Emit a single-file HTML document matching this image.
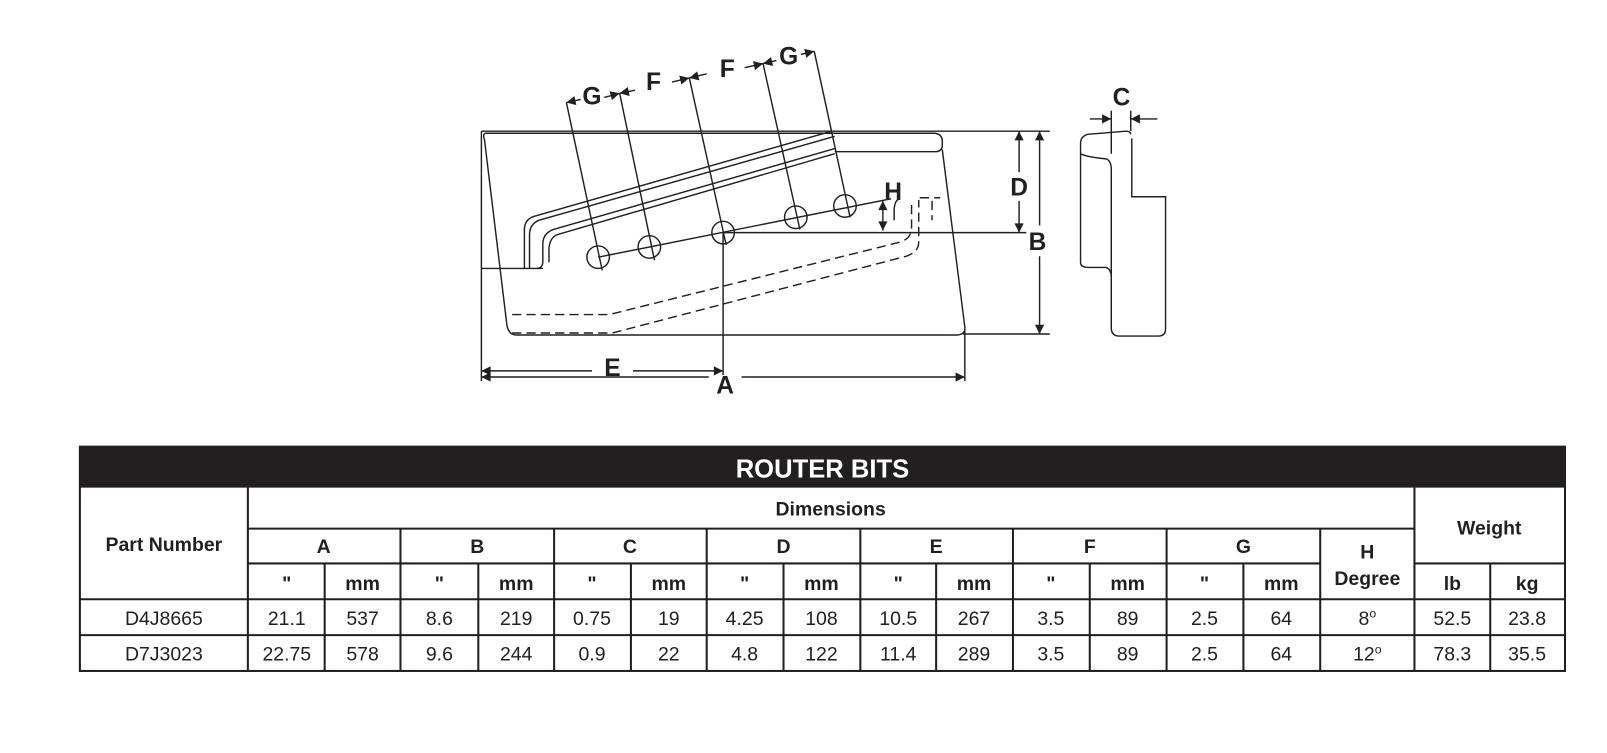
<!DOCTYPE html>
<html><head><meta charset="utf-8"><style>
html,body{margin:0;padding:0;background:#fff;}
svg{display:block;}
text{font-family:"Liberation Sans",Arial,sans-serif;fill:#231f20;}
.b{font-weight:bold;}
</style></head><body>
<svg width="1607" height="753" viewBox="0 0 1569 735" xmlns="http://www.w3.org/2000/svg">
<defs>
<marker id="ar" viewBox="0 0 10 10" refX="10" refY="5" markerWidth="14" markerHeight="9" orient="auto-start-reverse" markerUnits="userSpaceOnUse"><path d="M0,0 L10,5 L0,10 z" fill="#231f20"/></marker>
</defs>
<g fill="none" stroke="#231f20" stroke-width="1.4">
<line x1="470" y1="128" x2="1025" y2="128"/>
<line x1="470" y1="128" x2="470" y2="372"/>
<line x1="942" y1="322" x2="942" y2="372"/>
<line x1="940" y1="326" x2="1025" y2="326"/>
<line x1="706" y1="227" x2="1002" y2="227"/>
<line x1="706" y1="227" x2="706" y2="366"/>
<path d="M474,130 L913,130 Q920,131 920,138 L920,143 Q919,148 913,148 L815,148"/>
<path d="M474,130 Q471,131 473,136 L495,318 Q497,327 504,327 L935,327 Q943,326 942,319 L920,146"/>
<path d="M812,128 L522,211 Q512,214 512,224 L512,262"/>
<path d="M815,133 L526,215 Q517,219 517,229 L517,262"/>
<path d="M815,145 L540,224 Q530,228 530,238 L530,255 Q530,262 524,262"/>
<path d="M815,150 L544,229 Q537,232 536,242 L536,256"/>
<line x1="470" y1="262" x2="530" y2="262"/>
<circle cx="584" cy="251" r="11"/>
<circle cx="634" cy="241" r="11"/>
<circle cx="706" cy="227" r="11"/>
<circle cx="777" cy="212" r="11"/>
<circle cx="825" cy="201" r="11"/>
<line x1="584" y1="251" x2="870" y2="194"/>
<line x1="553" y1="100" x2="588" y2="264"/>
<line x1="605" y1="91" x2="639" y2="254"/>
<line x1="673" y1="76" x2="709" y2="239"/>
<line x1="745" y1="62" x2="781" y2="224"/>
<line x1="795" y1="50" x2="830" y2="212"/>
<g stroke-dasharray="9,5">
<path d="M500,307 L595,307 L880,236 Q890,232 890,222 L890,195"/>
<path d="M500,325 L598,325 L885,250 Q897,246 897,236 L897,195"/>
<path d="M898,193 L918,193"/>
<path d="M910,196 L910,215"/>
</g>
<path d="M878,194 Q873,196 873,206 L873,215"/>
</g>
<g stroke="#231f20" stroke-width="1.4" fill="none">
<line x1="553" y1="100" x2="567" y2="97" marker-start="url(#ar)"/>
<line x1="590" y1="95" x2="605" y2="91" marker-end="url(#ar)"/>
<line x1="605" y1="91" x2="620" y2="88" marker-start="url(#ar)"/>
<line x1="656" y1="80" x2="673" y2="76" marker-end="url(#ar)"/>
<line x1="673" y1="76" x2="690" y2="72" marker-start="url(#ar)"/>
<line x1="727" y1="66" x2="745" y2="62" marker-end="url(#ar)"/>
<line x1="745" y1="62" x2="758" y2="59" marker-start="url(#ar)"/>
<line x1="782" y1="53" x2="795" y2="50" marker-end="url(#ar)"/>
<line x1="470" y1="362" x2="578" y2="362" marker-start="url(#ar)"/>
<line x1="618" y1="362" x2="706" y2="362" marker-end="url(#ar)"/>
<line x1="470" y1="368" x2="692" y2="368" marker-start="url(#ar)"/>
<line x1="724" y1="368" x2="942" y2="368" marker-end="url(#ar)"/>
<line x1="995" y1="128" x2="995" y2="168" marker-start="url(#ar)"/>
<line x1="995" y1="196" x2="995" y2="227" marker-end="url(#ar)"/>
<line x1="1015" y1="128" x2="1015" y2="220" marker-start="url(#ar)"/>
<line x1="1015" y1="250" x2="1015" y2="326" marker-end="url(#ar)"/>
<line x1="862" y1="196" x2="862" y2="225" marker-start="url(#ar)" marker-end="url(#ar)"/>
<line x1="1064" y1="116" x2="1085" y2="116" marker-end="url(#ar)"/>
<line x1="1130" y1="116" x2="1104" y2="116" marker-end="url(#ar)"/>
<line x1="1085" y1="108" x2="1085" y2="150"/>
<line x1="1104" y1="108" x2="1104" y2="128"/>
<path d="M1104,131 Q1104,128 1099,128 L1062,131 Q1055,133 1055,140 L1055,256 Q1055,261 1062,261 L1080,261 Q1085,263 1085,270 L1085,320 Q1085,328 1093,328 L1131,328 Q1138,328 1138,321 L1138,192 L1105,192 L1105,135"/>
<path d="M1055,150 Q1060,153 1080,155 Q1085,157 1085,165 L1085,270"/>
</g>
<g class="b" font-size="24">
<text x="578" y="102" text-anchor="middle" class="b">G</text>
<text x="638" y="88" text-anchor="middle" class="b">F</text>
<text x="710" y="75" text-anchor="middle" class="b">F</text>
<text x="770" y="63" text-anchor="middle" class="b">G</text>
<text x="872" y="195" text-anchor="middle" class="b">H</text>
<text x="598" y="367" text-anchor="middle" class="b">E</text>
<text x="708" y="384" text-anchor="middle" class="b">A</text>
<text x="995" y="191" text-anchor="middle" class="b">D</text>
<text x="1013" y="244" text-anchor="middle" class="b">B</text>
<text x="1095" y="103" text-anchor="middle" class="b">C</text>
</g>
<rect x="78" y="436" width="1450" height="40" fill="#231f20"/>
<text x="803" y="466" text-anchor="middle" font-size="25" class="b" style="fill:#fff">ROUTER BITS</text>
<g stroke="#231f20" stroke-width="2" fill="none">
<rect x="78" y="436" width="1450" height="219"/>
<line x1="242" y1="476" x2="242" y2="655"/>
<line x1="1381" y1="476" x2="1381" y2="655"/>
<line x1="242" y1="516" x2="1381" y2="516"/>
<line x1="242" y1="550" x2="1289" y2="550"/>
<line x1="1381" y1="550" x2="1528" y2="550"/>
<line x1="78" y1="585" x2="1528" y2="585"/>
<line x1="78" y1="620" x2="1528" y2="620"/>
<line x1="391" y1="516" x2="391" y2="655"/>
<line x1="541" y1="516" x2="541" y2="655"/>
<line x1="690" y1="516" x2="690" y2="655"/>
<line x1="840" y1="516" x2="840" y2="655"/>
<line x1="989" y1="516" x2="989" y2="655"/>
<line x1="1139" y1="516" x2="1139" y2="655"/>
<line x1="1289" y1="516" x2="1289" y2="655"/>
<line x1="317" y1="550" x2="317" y2="655"/>
<line x1="467" y1="550" x2="467" y2="655"/>
<line x1="616" y1="550" x2="616" y2="655"/>
<line x1="765" y1="550" x2="765" y2="655"/>
<line x1="914" y1="550" x2="914" y2="655"/>
<line x1="1064" y1="550" x2="1064" y2="655"/>
<line x1="1214" y1="550" x2="1214" y2="655"/>
<line x1="1455" y1="550" x2="1455" y2="655"/>
</g>
<g font-size="19" text-anchor="middle">
<text x="160" y="538" class="b">Part Number</text>
<text x="811" y="503" class="b">Dimensions</text>
<text x="1454" y="522" class="b">Weight</text>
<text x="316" y="540" class="b">A</text>
<text x="466" y="540" class="b">B</text>
<text x="615" y="540" class="b">C</text>
<text x="765" y="540" class="b">D</text>
<text x="914" y="540" class="b">E</text>
<text x="1064" y="540" class="b">F</text>
<text x="1214" y="540" class="b">G</text>
<text x="1335" y="545" class="b">H</text>
<text x="1335" y="571" class="b">Degree</text>
<g class="b">
<text x="280" y="576">"</text><text x="354" y="576">mm</text>
<text x="429" y="576">"</text><text x="504" y="576">mm</text>
<text x="578" y="576">"</text><text x="653" y="576">mm</text>
<text x="727" y="576">"</text><text x="802" y="576">mm</text>
<text x="877" y="576">"</text><text x="951" y="576">mm</text>
<text x="1026" y="576">"</text><text x="1101" y="576">mm</text>
<text x="1176" y="576">"</text><text x="1251" y="576">mm</text>
<text x="1418" y="576">lb</text><text x="1491" y="576">kg</text>
</g>
<text x="160" y="610">D4J8665</text>
<text x="280" y="610">21.1</text><text x="354" y="610">537</text>
<text x="429" y="610">8.6</text><text x="504" y="610">219</text>
<text x="578" y="610">0.75</text><text x="653" y="610">19</text>
<text x="727" y="610">4.25</text><text x="802" y="610">108</text>
<text x="877" y="610">10.5</text><text x="951" y="610">267</text>
<text x="1026" y="610">3.5</text><text x="1101" y="610">89</text>
<text x="1176" y="610">2.5</text><text x="1251" y="610">64</text>
<text x="1335" y="610">8<tspan font-size="12" dy="-7">o</tspan></text>
<text x="1418" y="610">52.5</text><text x="1491" y="610">23.8</text>
<text x="160" y="645">D7J3023</text>
<text x="280" y="645">22.75</text><text x="354" y="645">578</text>
<text x="429" y="645">9.6</text><text x="504" y="645">244</text>
<text x="578" y="645">0.9</text><text x="653" y="645">22</text>
<text x="727" y="645">4.8</text><text x="802" y="645">122</text>
<text x="877" y="645">11.4</text><text x="951" y="645">289</text>
<text x="1026" y="645">3.5</text><text x="1101" y="645">89</text>
<text x="1176" y="645">2.5</text><text x="1251" y="645">64</text>
<text x="1335" y="645">12<tspan font-size="12" dy="-7">o</tspan></text>
<text x="1418" y="645">78.3</text><text x="1491" y="645">35.5</text>
</g>
</svg>
</body></html>
